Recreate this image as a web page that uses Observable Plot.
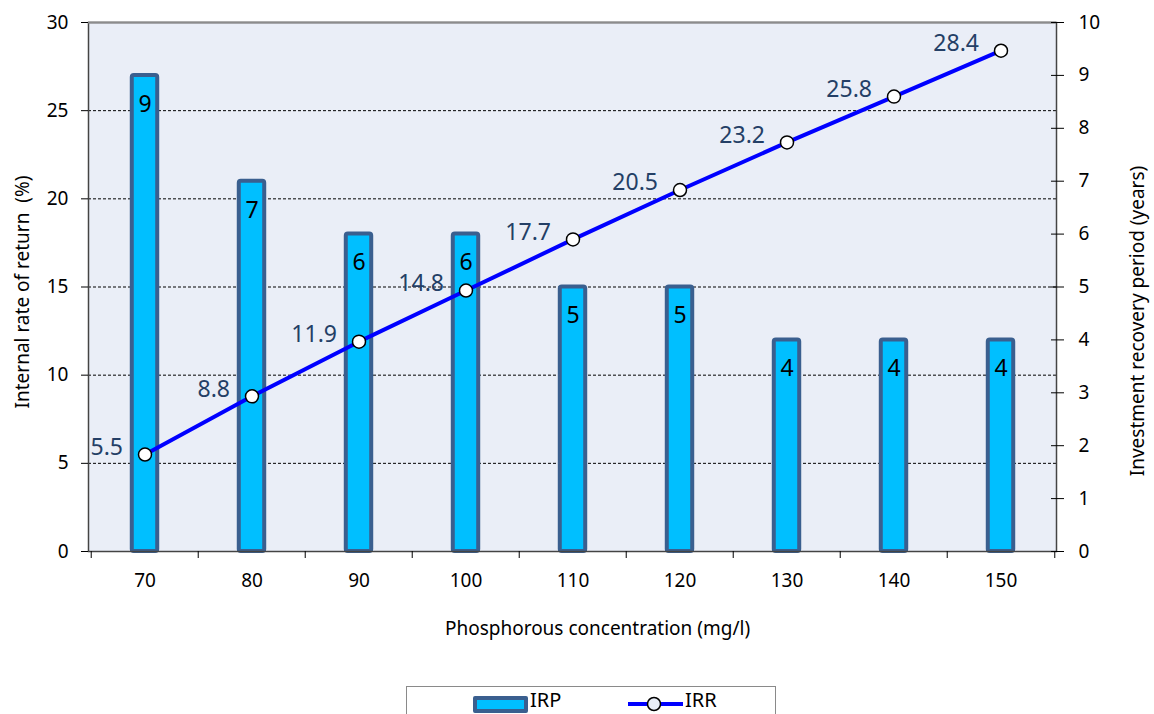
<!DOCTYPE html>
<html>
<head>
<meta charset="utf-8">
<script src="https://cdn.jsdelivr.net/npm/d3@7"></script>
<script src="https://cdn.jsdelivr.net/npm/@observablehq/plot@0.6"></script>
<style>
  body { margin: 0; background: white; font-family: "Noto Sans", sans-serif; }
  #chart svg { display: block; }
  #legend { position: relative; margin-left: 406px; width: 370px; height: 28px; box-sizing: border-box;
            border: 1.5px solid #8a8a8a; border-bottom: none; background: white; }
  #legend .sw { position: absolute; }
  #legend .lbl { position: absolute; font-size: 20px; line-height: normal; color: #000; }
</style>
</head>
<body>
<div id="chart"></div>
<div id="legend">
  <div class="sw" style="left:66px; top:9px; width:55px; height:17px; box-sizing:border-box; background:#00BFFF; border:4px solid #3A5F8F; border-radius:2px;"></div>
  <div class="lbl" style="left:123px; top:-1px;">IRP</div>
  <svg class="sw" style="left:220px; top:7px;" width="57" height="20">
    <line x1="1" y1="10" x2="56" y2="10" stroke="#0000FF" stroke-width="4"></line>
    <circle cx="27" cy="10" r="6.5" fill="#E8EEF7" stroke="#000" stroke-width="1.5"></circle>
  </svg>
  <div class="lbl" style="left:278px; top:-1px;">IRR</div>
</div>
<script>
const categories = ["70", "80", "90", "100", "110", "120", "130", "140", "150"];
const irp = [9, 7, 6, 6, 5, 5, 4, 4, 4];               // Investment recovery period (years)
const irr = [5.5, 8.8, 11.9, 14.8, 17.7, 20.5, 23.2, 25.8, 28.4]; // Internal rate of return (%)
const leftTicks = [0, 5, 10, 15, 20, 25, 30];
const rightTicks = [0, 1, 2, 3, 4, 5, 6, 7, 8, 9, 10];
const ratio = 3; // right axis (years) 0–10 maps onto left axis 0–30

const data = categories.map((c, i) => ({c, irp: irp[i], irr: irr[i]}));
const half = (1154 - 88 - 98) / categories.length / 2;

const chart = Plot.plot({
  width: 1154,
  height: 686,
  marginLeft: 88,
  marginRight: 98,
  marginTop: 22,
  marginBottom: 135,
  style: {fontFamily: "Noto Sans", fontSize: "19px", color: "#000", background: "white", overflow: "visible"},
  x: {type: "band", domain: categories, padding: 0},
  y: {domain: [0, 30]},
  marks: [
    Plot.frame({fill: "#EAEEF7"}),
    Plot.gridY(leftTicks.filter(t => t > 0 && t < 30), {stroke: "#000", strokeOpacity: 1, strokeWidth: 1, strokeDasharray: "3,2"}),
    Plot.barY(data, {x: "c", y: d => d.irp * ratio, fill: "#00BFFF", stroke: "#3A5F8F", strokeWidth: 4,
                     insetLeft: half - 13, insetRight: half - 13, rx: 2}),
    Plot.text(data, {x: "c", y: d => d.irp * ratio, text: d => String(d.irp), dy: 29, fontSize: 23, fill: "#000"}),
    Plot.frame({stroke: "#444", strokeWidth: 1.5}),
    Plot.ruleY([30], {stroke: "#8c8c8c", strokeWidth: 2}),
    Plot.axisY(leftTicks, {anchor: "left", tickSize: 7, tickPadding: 13, label: null, fontSize: 19}),
    Plot.axisY(rightTicks.map(v => v * ratio), {anchor: "right", tickSize: 13, tickPadding: 15, dx: -6,
               tickFormat: d => String(Math.round(d / ratio)), label: null, fontSize: 19}),
    Plot.axisX({tickSize: 0, tickPadding: 22, label: null, fontSize: 19}),
    Plot.axisX(categories, {tickSize: 7, dx: -half, tickFormat: () => "", label: null}),
    Plot.axisX([categories[categories.length - 1]], {tickSize: 7, dx: half, tickFormat: () => "", label: null}),
    Plot.line(data, {x: "c", y: "irr", stroke: "#0000FF", strokeWidth: 4}),
    Plot.dot(data, {x: "c", y: "irr", r: 6.5, fill: "white", stroke: "#000", strokeWidth: 1.5}),
    Plot.text(data, {x: "c", y: "irr", text: d => d.irr.toFixed(1), textAnchor: "end", dx: -22, dy: -7,
                     fontSize: 23, fill: "#243F66"}),
    Plot.text(["Internal rate of return  (%)"], {frameAnchor: "left", textAnchor: "middle", rotate: -90, dx: -66, dy: 5, fontSize: 19, fill: "#000"}),
    Plot.text(["Investment recovery period (years)"], {frameAnchor: "right", textAnchor: "middle", rotate: -90, dx: 81, dy: 34, fontSize: 19, fill: "#000"}),
    Plot.text(["Phosphorous concentration (mg/l)"], {frameAnchor: "bottom", dx: 25, dy: 83, fontSize: 19, fill: "#000"})
  ]
});
document.getElementById("chart").append(chart);
</script>
</body>
</html>
